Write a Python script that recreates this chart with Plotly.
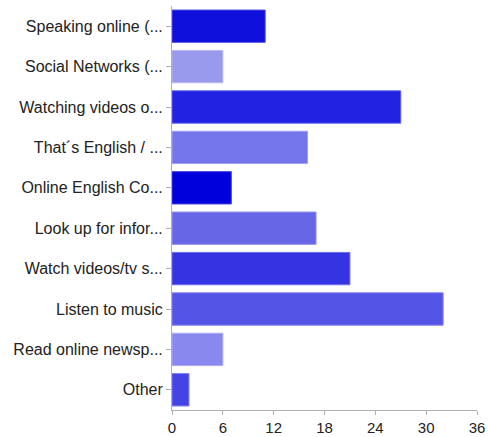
import plotly.graph_objects as go

categories = [
    "Speaking online (...",
    "Social Networks (...",
    "Watching videos o...",
    "That´s English / ...",
    "Online English Co...",
    "Look up for infor...",
    "Watch videos/tv s...",
    "Listen to music",
    "Read online newsp...",
    "Other",
]
values = [11, 6, 27, 16, 7, 17, 21, 32, 6, 2]
colors = ["#1010dc", "#9999ee", "#2222e2", "#7676ec", "#0000dc",
          "#6666e6", "#3434e2", "#5454e6", "#8888ee", "#4444e6"]
line_colors = ["#5050e8", "#b8b8f4", "#6060ec", "#a0a0f2", "#4040e8",
               "#9090ee", "#6c6cec", "#8080ee", "#aaaaf4", "#7878ee"]
x_ticks = [0, 6, 12, 18, 24, 30, 36]

fig = go.Figure(go.Bar(
    x=values, y=categories, orientation="h",
    marker=dict(color=colors, line=dict(color=line_colors, width=1)),
))
fig.update_layout(
    width=488, height=437,
    margin=dict(l=172, r=11, t=6, b=27, autoexpand=False),
    plot_bgcolor="white", paper_bgcolor="white",
    bargap=0.2, showlegend=False,
    font=dict(family="Liberation Sans, Arial, sans-serif", size=16, color="#222222"),
)
fig.update_xaxes(range=[0, 36], tickvals=x_ticks, showgrid=False, zeroline=False,
                 showline=True, linecolor="#b0b0b0", linewidth=1,
                 ticks="outside", ticklen=4, tickcolor="#b0b0b0",
                 tickfont=dict(size=15), automargin=False)
fig.update_yaxes(autorange="reversed", showgrid=False, zeroline=False,
                 showline=True, linecolor="#b0b0b0", linewidth=1,
                 ticks="outside", ticklen=5, tickcolor="#b0b0b0",
                 tickfont=dict(size=16), automargin=False)
fig.write_html("out.html", config={"displayModeBar": False},
               post_script="document.body.style.margin='0';document.body.style.overflow='hidden';")
